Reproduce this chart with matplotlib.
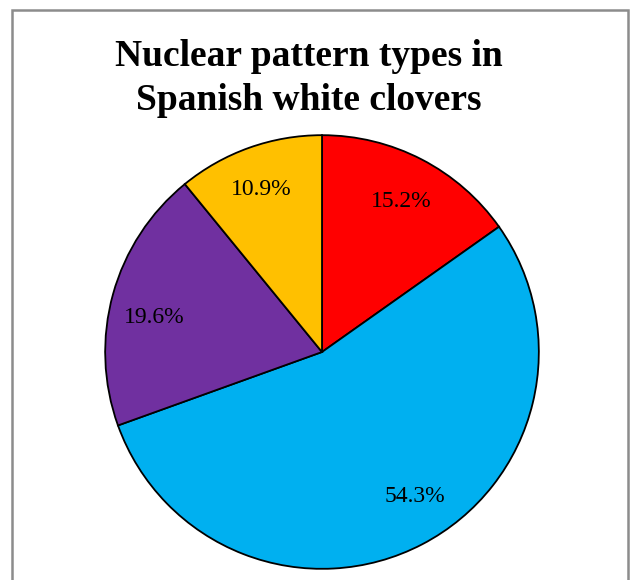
import matplotlib.pyplot as plt
from matplotlib.patches import Rectangle

labels = ["Type A", "Type B", "Type C", "Type D"]
shares = [15.2, 54.3, 19.6, 10.9]
colors = ["#FF0000", "#00B0F0", "#7030A0", "#FFC000"]
title_lines = ["Nuclear pattern types in", "Spanish white clovers"]

W, H = 630, 580
fig = plt.figure(figsize=(W / 100, H / 100), dpi=100)

# chart frame
fig.patches.append(Rectangle((12 / W, -0.05), 616 / W, (H - 10) / H + 0.05,
                             transform=fig.transFigure, fill=False,
                             edgecolor="#8c8c8c", linewidth=1.8))

cx, cy, r = 322, H - 352, 219
ax = fig.add_axes([(cx - r) / W, (cy - r) / H, 2 * r / W, 2 * r / H])
wedges, texts, autotexts = ax.pie(
    shares, colors=colors, startangle=90, counterclock=False,
    autopct="%.1f%%", pctdistance=0.78,
    wedgeprops=dict(edgecolor="black", linewidth=1.3),
    textprops=dict(fontfamily="Liberation Serif", fontsize=17, color="black"))

# best-fit style nudges for the percentage labels (pixels, y downwards)
nudges = [(2, 0), (15, -6), (-5, 11), (-4, -3)]
for t, (dx, dy) in zip(autotexts, nudges):
    x, y = t.get_position()
    t.set_position((x + dx / r, y - dy / r))

ax.set_xlim(-1.01, 1.01)
ax.set_ylim(-1.01, 1.01)
ax.set_aspect("equal")
ax.axis("off")

for line, base in zip(title_lines, [66, 110]):
    fig.text(309 / W, 1 - base / H, line, ha="center", va="baseline",
             fontfamily="Liberation Serif", fontweight="bold", fontsize=27)

fig.savefig("out.png", dpi=100)
